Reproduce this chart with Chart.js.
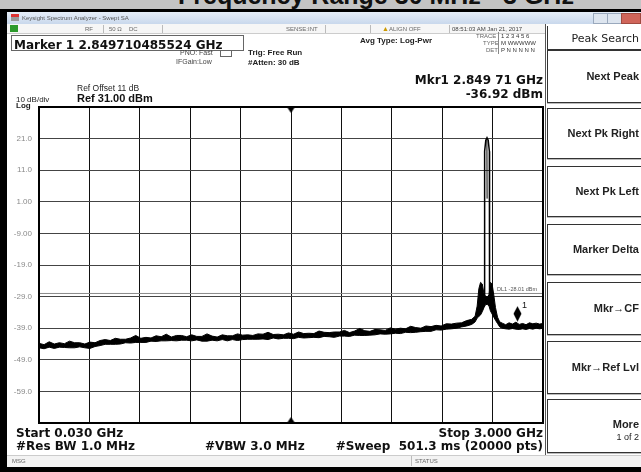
<!DOCTYPE html>
<html><head><meta charset="utf-8">
<script src="https://cdn.jsdelivr.net/npm/chart.js@4/dist/chart.umd.min.js"></script>
<style>
html,body{margin:0;padding:0;}
body{width:641px;height:472px;position:relative;overflow:hidden;background:#fff;font-family:"Liberation Sans",Arial,sans-serif;}
.a{position:absolute;white-space:nowrap;line-height:1;}
.big{font:bold 12px "DejaVu Sans";color:#111;}
.sm{font:7px "Liberation Sans";color:#444;}
.smb{font:bold 8px "Liberation Sans";color:#222;}
.tiny{font:6px "Liberation Sans";color:#666;}
.sk{position:absolute;left:547px;width:94px;border:1px solid #333;border-right:none;background:#fff;box-shadow:0 1px 0 #bbb;}
.sk span{position:absolute;right:3px;font:bold 11px "Liberation Sans";color:#222;white-space:nowrap;line-height:1;}
canvas{position:absolute;left:0;top:0;}
</style></head><body>

<canvas id="c" width="641" height="472"></canvas>

<!-- frame / chrome -->
<div class="a" style="left:0;top:0;width:641px;height:9px;background:#c4c4c4;overflow:hidden;">
  <div class="a" style="left:178px;top:-17px;font:bold 25px 'Liberation Sans';color:#111;line-height:25px;">Frequency Range 30 MHz - 3 GHz</div>
</div>
<div class="a" style="left:0;top:9px;width:641px;height:3px;background:#000;"></div>
<div class="a" style="left:0;top:9px;width:7px;height:463px;background:#000;"></div>
<div class="a" style="left:0;top:466px;width:641px;height:6px;background:#000;"></div>

<!-- window title bar -->
<div class="a" style="left:7px;top:12px;width:634px;height:12px;background:linear-gradient(#e6eef8,#c9d8ec);"></div>
<div class="a" style="left:11px;top:14px;width:8px;height:7px;background:linear-gradient(#d33 0 40%,#999 40%);"></div>
<div class="a tiny" style="left:22px;top:15px;color:#555;">Keysight Spectrum Analyzer - Swept SA</div>
<div class="a" style="left:593px;top:13px;width:14px;height:9px;background:#dde5ef;border:1px solid #9aa9bd;"></div>
<div class="a" style="left:607px;top:13px;width:14px;height:9px;background:#dde5ef;border:1px solid #9aa9bd;"></div>
<div class="a" style="left:621px;top:13px;width:18px;height:9px;background:#d0655a;border:1px solid #a04a40;"></div>

<!-- status bar -->
<div class="a" style="left:7px;top:24px;width:539px;height:9px;background:#f6f6f6;border-bottom:1px solid #ccc;"></div>
<div class="a" style="left:10px;top:25px;width:8px;height:7px;background:#2c9a2c;"></div>
<div class="a tiny" style="left:85px;top:26px;">RF</div>
<div class="a" style="left:103px;top:25px;width:1px;height:8px;background:#bbb;"></div>
<div class="a tiny" style="left:109px;top:26px;">50 Ω</div>
<div class="a tiny" style="left:129px;top:26px;">DC</div>
<div class="a" style="left:162px;top:25px;width:1px;height:8px;background:#bbb;"></div>
<div class="a tiny" style="left:286px;top:26px;">SENSE:INT</div>
<div class="a" style="left:325px;top:25px;width:1px;height:8px;background:#bbb;"></div>
<div class="a" style="left:370px;top:25px;width:1px;height:8px;background:#bbb;"></div>
<div class="a tiny" style="left:382px;top:25px;color:#c90;font-size:7px;">▲</div>
<div class="a tiny" style="left:389px;top:26px;">ALIGN OFF</div>
<div class="a" style="left:449px;top:25px;width:1px;height:8px;background:#bbb;"></div>
<div class="a tiny" style="left:452px;top:26px;color:#444;">08:51:03 AM Jan 21, 2017</div>

<!-- marker header -->
<div class="a" style="left:11px;top:35px;width:231px;height:14px;border:1px solid #666;"></div>
<div class="a big" style="left:14px;top:38px;">Marker 1 2.849710485524 GHz</div>
<div class="a sm" style="left:180px;top:49px;">PNO: Fast</div>
<div class="a" style="left:220px;top:50px;width:10px;height:5px;border:1px solid #666;"></div>
<div class="a sm" style="left:176px;top:58px;">IFGain:Low</div>
<div class="a smb" style="left:248px;top:48px;">Trig: Free Run</div>
<div class="a smb" style="left:248px;top:58px;">#Atten: 30 dB</div>
<div class="a smb" style="left:360px;top:36px;">Avg Type: Log-Pwr</div>
<div class="a tiny" style="left:476px;top:33px;">TRACE</div>
<div class="a tiny" style="left:483px;top:40px;">TYPE</div>
<div class="a tiny" style="left:486px;top:47px;">DET</div>
<div class="a" style="left:498px;top:32px;width:1px;height:22px;background:#888;"></div>
<div class="a tiny" style="left:501px;top:33px;color:#333;">1 2 3 4 5 6</div>
<div class="a tiny" style="left:501px;top:40px;color:#333;">M WWWWW</div>
<div class="a tiny" style="left:501px;top:47px;color:#333;">P N N N N N</div>

<div class="a big" style="right:98px;top:73px;">Mkr1 2.849 71 GHz</div>
<div class="a big" style="right:98px;top:87px;">-36.92 dBm</div>
<div class="a smb" style="left:77px;top:83px;font-weight:normal;font-size:8.5px;">Ref Offset 11 dB</div>
<div class="a" style="left:16px;top:95px;font:8px 'Liberation Sans';color:#222;">10 dB/div</div>
<div class="a" style="left:77px;top:92px;font:bold 11px 'Liberation Sans';color:#111;">Ref 31.00 dBm</div>
<div class="a" style="left:16px;top:101px;font:bold 8px 'Liberation Sans';color:#222;">Log</div>

<!-- in-plot annotations -->
<div class="a" style="left:497px;top:286px;font:5.5px 'Liberation Sans';color:#555;">DL1 -28.01 dBm</div>
<div class="a" style="left:522px;top:300px;font:9px 'Liberation Sans';color:#111;">1</div>

<!-- bottom annotations -->
<div class="a big" style="left:16px;top:426px;">Start 0.030 GHz</div>
<div class="a big" style="left:16px;top:439px;">#Res BW 1.0 MHz</div>
<div class="a big" style="left:205px;top:439px;">#VBW 3.0 MHz</div>
<div class="a big" style="right:98px;top:426px;">Stop 3.000 GHz</div>
<div class="a big" style="right:98px;top:439px;">#Sweep&nbsp; 501.3 ms (20000 pts)</div>

<!-- bottom status -->
<div class="a" style="left:7px;top:455px;width:634px;height:11px;background:#f3f3f3;border-top:1px solid #ccc;"></div>
<div class="a tiny" style="left:12px;top:458px;">MSG</div>
<div class="a" style="left:411px;top:456px;width:1px;height:10px;background:#bbb;"></div>
<div class="a tiny" style="left:415px;top:458px;">STATUS</div>

<!-- softkeys -->
<div class="a" style="left:545px;top:24px;width:1px;height:431px;background:#555;"></div>
<div class="sk" style="top:26px;height:23px;border-top:none;"><span style="top:6px;font:11px 'DejaVu Sans';">Peak Search</span></div>
<div class="sk" style="top:50px;height:51px;"><span style="top:20px;">Next Peak</span></div>
<div class="sk" style="top:108px;height:49px;"><span style="top:19px;">Next Pk Right</span></div>
<div class="sk" style="top:166px;height:49px;"><span style="top:19px;">Next Pk Left</span></div>
<div class="sk" style="top:224px;height:49px;"><span style="top:19px;">Marker Delta</span></div>
<div class="sk" style="top:282px;height:51px;"><span style="top:20px;">Mkr→CF</span></div>
<div class="sk" style="top:341px;height:51px;"><span style="top:20px;">Mkr→Ref Lvl</span></div>
<div class="sk" style="top:399px;height:52px;"><span style="top:19px;">More</span><span style="top:33px;font-weight:normal;font-size:9px;">1 of 2</span></div>

<script>
// ---- axis settings ----
const startFreq = 0.030;   // GHz
const stopFreq = 3.000;    // GHz
const refLevel = 31;       // dBm
const bottomLevel = -69;   // dBm
const yTickValues = [31, 21, 11, 1, -9, -19, -29, -39, -49, -59, -69];
const yTickLabels = ['', '21.0', '11.0', '1.00', '-9.00', '-19.0', '-29.0', '-39.0', '-49.0', '-59.0', ''];
const xDivisions = 10;

// ---- noise floor (GHz, upper / lower envelope in dBm) ----
const floorFreqs = [0.03,0.06,0.09,0.12,0.15,0.18,0.21,0.24,0.27,0.30,0.33,0.36,0.39,0.42,0.45,0.48,0.51,0.54,0.57,0.60,
  0.63,0.66,0.69,0.72,0.75,0.78,0.81,0.84,0.87,0.90,0.93,0.96,0.99,1.02,1.05,1.08,1.11,1.14,1.17,1.20,
  1.23,1.26,1.29,1.32,1.35,1.38,1.41,1.44,1.47,1.50,1.53,1.56,1.59,1.62,1.65,1.68,1.71,1.74,1.77,1.80,
  1.83,1.86,1.89,1.92,1.95,1.98,2.01,2.04,2.07,2.10,2.13,2.16,2.19,2.22,2.25,2.28,2.31,2.34,2.37,2.40,
  2.43,2.46,2.49,2.52,2.55,2.58];
const floorUpper = [-43.8,-44.2,-43.3,-44.0,-43.6,-43.9,-43.1,-43.6,-43.6,-44.0,-43.4,-43.6,-42.9,-42.6,-42.9,-42.2,-42.5,-42.5,-42.1,-41.3,
  -42.2,-41.9,-42.1,-41.4,-41.7,-40.9,-41.8,-41.3,-41.3,-41.7,-41.1,-41.6,-41.6,-40.8,-41.5,-41.8,-41.1,-41.4,-41.4,-40.8,
  -41.2,-41.1,-41.3,-40.8,-40.9,-40.3,-41.0,-40.9,-41.1,-40.5,-40.9,-40.2,-40.7,-40.6,-40.7,-39.9,-40.3,-40.4,-40.2,-40.2,
  -39.7,-40.4,-39.9,-39.1,-39.8,-40.0,-39.4,-39.5,-39.7,-38.9,-39.3,-39.0,-39.2,-38.4,-38.8,-39.0,-38.3,-38.5,-38.1,-38.3,
  -37.6,-37.7,-37.4,-37.3,-36.6,-36.2];
const floorLower = [-45.2,-45.5,-45.0,-45.4,-45.0,-45.1,-45.2,-45.2,-44.9,-45.2,-45.4,-44.8,-44.5,-44.1,-44.1,-44.1,-44.0,-43.6,-43.7,-43.5,
  -43.5,-43.5,-43.1,-43.2,-43.0,-43.0,-42.9,-43.0,-42.8,-42.8,-43.0,-42.7,-43.1,-43.1,-42.8,-43.0,-42.6,-43.0,-42.6,-42.9,
  -42.6,-42.5,-42.5,-42.5,-42.4,-42.6,-42.1,-42.4,-42.2,-42.2,-42.3,-41.9,-42.1,-42.0,-41.9,-42.0,-41.6,-41.7,-41.9,-41.5,
  -41.5,-41.6,-41.2,-41.3,-41.3,-41.2,-41.1,-40.8,-40.9,-40.8,-40.6,-40.7,-40.3,-40.4,-40.3,-40.1,-40.0,-40.0,-39.5,-39.6,
  -39.3,-39.2,-39.0,-38.6,-38.3,-37.8];

// ---- skirts around the carrier ----
const skirtFreqs = [2.600,2.612,2.622,2.632,2.642,2.652,2.662,2.672,2.682,2.690,2.700,2.710,2.720,2.732,2.745];
const skirtUpper = [-35.2,-32.0,-26.5,-24.5,-25.0,-28.0,-29.0,-29.0,-28.5,-24.5,-25.0,-28.5,-32.5,-35.5,-37.0];
const skirtLower = [-37.0,-35.8,-35.3,-34.8,-33.8,-32.5,-31.5,-31.5,-32.0,-33.5,-34.5,-35.5,-36.5,-37.5,-38.6];

// ---- floor above the carrier ----
const tailFreqs = [2.76,2.78,2.80,2.82,2.84,2.86,2.88,2.90,2.92,2.94,2.96,2.98,3.00];
const tailUpper = [-37.4,-37.9,-37.3,-37.7,-37.1,-37.8,-37.5,-37.9,-37.3,-37.6,-37.4,-37.7,-37.5];
const tailLower = [-39.0,-39.2,-39.3,-39.1,-39.3,-39.4,-39.2,-39.4,-39.1,-39.3,-39.0,-39.2,-39.0];

// ---- carrier ----
const carrierFreqs = [2.655,2.656,2.663,2.670,2.677,2.684,2.685];
const carrierLevels = [-29.0,17.0,20.5,21.3,20.5,17.0,-29.0];
const carrierInnerFreqs = [2.6695,2.6705];
const carrierInnerLevels = [20.8,2.0];

// ---- marker & display line ----
const markerFreq = 2.849710485524;
const markerLevel = -36.92;
const displayLine = -28.01;

// ---------------------------------------------------------
const allFreqs = floorFreqs.concat(skirtFreqs, tailFreqs);
const allUpper = floorUpper.concat(skirtUpper, tailUpper);
const allLower = floorLower.concat(skirtLower, tailLower);
const pts = (xs, ys) => xs.map((x, i) => ({x, y: ys[i]}));

function makeImg(w, h, draw) {
  const c = document.createElement('canvas'); c.width = w; c.height = h;
  const g = c.getContext('2d'); g.fillStyle = '#000'; g.strokeStyle = '#000'; draw(g); return c;
}
const markerImg = makeImg(9, 32, g => {
  g.beginPath(); g.moveTo(4.5, 0.5); g.lineTo(8.5, 8); g.lineTo(4.5, 16); g.lineTo(0.5, 8); g.closePath(); g.fill();
});
const triDown = makeImg(9, 14, g => { g.beginPath(); g.moveTo(0.5, 7); g.lineTo(8.5, 7); g.lineTo(4.5, 13); g.closePath(); g.fill(); });
const triUp = makeImg(9, 14, g => { g.beginPath(); g.moveTo(0.5, 7); g.lineTo(8.5, 7); g.lineTo(4.5, 1); g.closePath(); g.fill(); });

const framePlugin = {
  id: 'frame',
  afterDatasetsDraw(chart) {
    const {ctx, chartArea: a} = chart;
    ctx.save(); ctx.strokeStyle = '#000'; ctx.lineWidth = 2;
    ctx.strokeRect(a.left, a.top, a.right - a.left, a.bottom - a.top);
    ctx.restore();
  }
};

const centerFreq = (startFreq + stopFreq) / 2;

new Chart(document.getElementById('c'), {
  type: 'line',
  data: {
    datasets: [
      {type:'scatter', data:[{x: markerFreq, y: markerLevel}], pointStyle: markerImg, showLine:false, clip:false},
      {type:'scatter', data:[{x: centerFreq, y: refLevel}], pointStyle: triDown, showLine:false, clip:false},
      {type:'scatter', data:[{x: centerFreq, y: bottomLevel}], pointStyle: triUp, showLine:false, clip:false},
      {data: pts(carrierFreqs, carrierLevels), borderColor:'#000', borderWidth:1.5, pointRadius:0, fill:false, tension:0},
      {data: pts(carrierInnerFreqs, carrierInnerLevels), borderColor:'#000', borderWidth:1, pointRadius:0, fill:false, tension:0},
      {data: pts(allFreqs, allLower), borderColor:'#000', borderWidth:1, pointRadius:0, fill:false, tension:0},
      {data: pts(allFreqs, allUpper), borderColor:'#000', borderWidth:1, pointRadius:0, fill:'-1', backgroundColor:'#000', tension:0},
      {data: [{x: startFreq, y: displayLine}, {x: stopFreq, y: displayLine}], borderColor:'#8a8a8a', borderWidth:1, pointRadius:0, fill:false}
    ]
  },
  options: {
    responsive: false,
    animation: false,
    events: [],
    layout: {padding: {left: 0, top: 107, right: 98, bottom: 49}},
    plugins: {legend: {display: false}, tooltip: {enabled: false}},
    scales: {
      x: {
        type: 'linear', min: startFreq, max: stopFreq,
        afterBuildTicks(s) { s.ticks = Array.from({length: xDivisions + 1}, (_, i) => ({value: startFreq + i * (stopFreq - startFreq) / xDivisions})); },
        ticks: {display: false},
        grid: {color: '#111', lineWidth: 1, drawTicks: false},
        border: {display: false},
        afterFit(s) { s.height = 0; }
      },
      y: {
        type: 'linear', min: bottomLevel, max: refLevel,
        afterBuildTicks(s) { s.ticks = yTickValues.map(v => ({value: v})); },
        ticks: {
          callback: (v, i) => yTickLabels[i],
          color: '#8a8a8a', padding: 7,
          font: {family: 'Liberation Sans', size: 8}
        },
        grid: {color: '#444', lineWidth: 1, drawTicks: false},
        border: {display: false},
        afterFit(s) { s.width = 39; }
      }
    }
  },
  plugins: [framePlugin]
});
</script>
</body></html>
